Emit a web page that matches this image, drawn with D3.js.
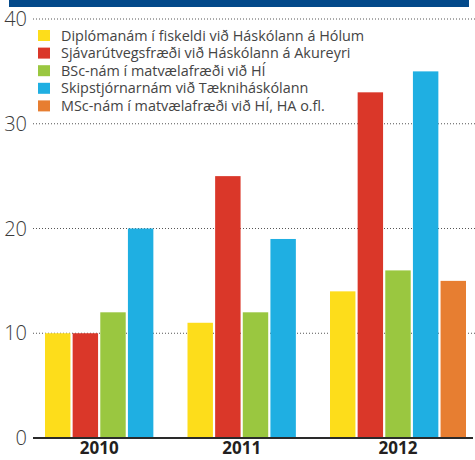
<!DOCTYPE html>
<html>
<head>
<meta charset="utf-8">
<script src="https://cdn.jsdelivr.net/npm/d3@7"></script>
<style>
  body { margin: 0; background: #fff; }
  svg { display: block; font-family: "Open Sans", "Noto Sans", sans-serif; }
</style>
</head>
<body>
<div id="wrapper"></div>
<script>
// data
const years = ['2010', '2011', '2012']
const seriesNames = [
    'Diplómanám í fiskeldi við Háskólann á Hólum',
    'Sjávarútvegsfræði við Háskólann á Akureyri',
    'BSc-nám í matvælafræði við HÍ',
    'Skipstjórnarnám við Tækniháskólann',
    'MSc-nám í matvælafræði við HÍ, HA o.fl.',
]
const seriesColors = ['#fddd1b', '#da3729', '#9ac740', '#1fafe2', '#e77e31']
const diplomaValues = [10, 11, 14]
const sjavarValues = [10, 25, 33]
const bscValues = [12, 12, 16]
const skipValues = [20, 19, 35]
const mscValues = [null, null, 15]
const yTicks = [0, 10, 20, 30, 40]

const seriesValues = [diplomaValues, sjavarValues, bscValues, skipValues, mscValues]

const dimensions = {
    width: 475,
    height: 460,
    plotTop: 19,
    plotBottom: 438,
    plotLeft: 33,
    plotRight: 475,
}

const wrapper = d3.select('#wrapper')
    .append('svg')
    .attr('width', dimensions.width)
    .attr('height', dimensions.height)

// header band (cut off at the top of the picture)
wrapper.append('rect')
    .attr('x', 9).attr('y', 0)
    .attr('width', 460).attr('height', 7)
    .attr('fill', '#03498a')

// scales
const yScale = d3.scaleLinear()
    .domain([0, 40])
    .range([dimensions.plotBottom, dimensions.plotTop])

const xScale = d3.scaleBand()
    .domain(years)
    .range([45, 45 + 142.5 * years.length])
    .paddingInner(0)
    .paddingOuter(0)

const innerScale = d3.scaleBand()
    .domain(d3.range(seriesNames.length))
    .range([0, 136])
    .paddingInner(0.08)
    .paddingOuter(0)

// grid + y labels
const grid = wrapper.append('g')
grid.selectAll('line')
    .data(yTicks.filter(d => d > 0))
    .join('line')
    .attr('x1', dimensions.plotLeft)
    .attr('x2', dimensions.plotRight)
    .attr('y1', d => yScale(d))
    .attr('y2', d => yScale(d))
    .attr('stroke', '#555')
    .attr('stroke-width', 1)
    .attr('stroke-dasharray', '1,2')

grid.selectAll('text')
    .data(yTicks)
    .join('text')
    .attr('x', 27)
    .attr('y', d => yScale(d) + 7)
    .attr('text-anchor', 'end')
    .attr('font-size', 20)
    .attr('font-weight', 300)
    .attr('fill', '#3a3a3a')
    .text(d => d)

// bars
const flat = []
seriesValues.forEach((vals, si) => {
    vals.forEach((v, yi) => {
        if (v != null) flat.push({ year: years[yi], series: si, value: v })
    })
})

wrapper.append('g')
    .selectAll('rect')
    .data(flat)
    .join('rect')
    .attr('x', d => xScale(d.year) + innerScale(d.series))
    .attr('y', d => yScale(d.value))
    .attr('width', innerScale.bandwidth())
    .attr('height', d => yScale(0) - yScale(d.value))
    .attr('fill', d => seriesColors[d.series])

// zero line
wrapper.append('line')
    .attr('x1', dimensions.plotLeft)
    .attr('x2', 473)
    .attr('y1', yScale(0))
    .attr('y2', yScale(0))
    .attr('stroke', '#2a2a2a')
    .attr('stroke-width', 2)

// year labels, centred under the bars that exist
wrapper.append('g')
    .selectAll('text')
    .data(years)
    .join('text')
    .attr('x', (d, yi) => {
        const present = seriesValues.map((vals, si) => vals[yi] != null ? si : null).filter(s => s != null)
        const first = xScale(d) + innerScale(present[0])
        const last = xScale(d) + innerScale(present[present.length - 1]) + innerScale.bandwidth()
        return (first + last) / 2
    })
    .attr('y', 454)
    .attr('text-anchor', 'middle')
    .attr('font-size', 17)
    .attr('font-weight', 'bold')
    .attr('fill', '#231f20')
    .text(d => d)

// legend
const legend = wrapper.append('g')
    .attr('transform', 'translate(38, 30)')

const legendItems = legend.selectAll('g')
    .data(seriesNames)
    .join('g')
    .attr('transform', (d, i) => `translate(0, ${i * 17.6})`)

legendItems.append('rect')
    .attr('width', 12)
    .attr('height', 11)
    .attr('fill', (d, i) => seriesColors[i])

legendItems.append('text')
    .attr('x', 23)
    .attr('y', 10.5)
    .attr('font-size', 14.4)
    .attr('fill', '#444')
    .text(d => d)
</script>
</body>
</html>
